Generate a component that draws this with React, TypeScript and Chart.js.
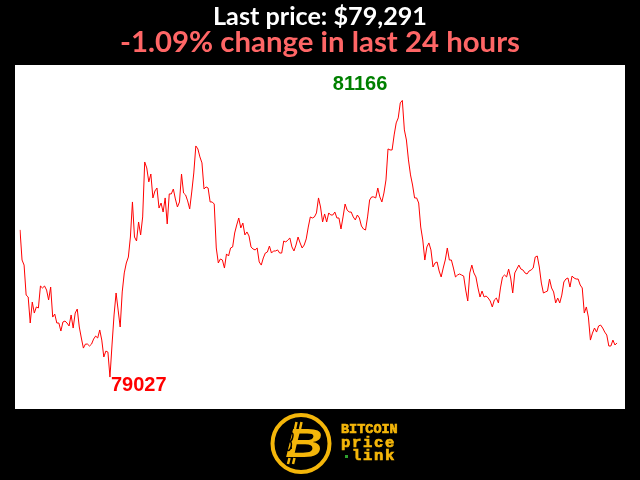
import { useEffect, useRef } from "react";
import Chart from "chart.js/auto";

// BTC/USD, last 24 hours (oldest first)
const prices: number[] = [
  80165, 79932, 79893, 79661, 79646, 79445, 79607, 79522, 79569, 79561,
  79731, 79716, 79731, 79700, 79623, 79723, 79491, 79514, 79445, 79445,
  79383, 79453, 79460, 79445, 79422, 79507, 79406, 79522, 79553, 79414,
  79329, 79251, 79282, 79282, 79267, 79282, 79321, 79344, 79329, 79391,
  79313, 79182, 79228, 79220, 79027,
  79275, 79507, 79677, 79545, 79414, 79685, 79832, 79909, 79955, 80110,
  80381, 80110, 80079, 80226, 80126, 80265, 80690, 80644, 80536, 80597,
  80412, 80466, 80489, 80334, 80373, 80303, 80412, 80211, 80443, 80443,
  80481, 80404, 80342, 80381, 80597, 80450, 80435, 80389, 80327, 80458,
  80605, 80814, 80791, 80729, 80683, 80481, 80497, 80489, 80381, 80381,
  80365, 80025, 79909, 79940, 79932, 79870, 79979, 79963, 80025, 80033,
  80141, 80203, 80257, 80180, 80218, 80126, 80149, 80118, 80033, 80017,
  80010, 80025, 79917, 79893, 79948, 79986, 79994, 80040, 79986, 80002,
  80002, 80010, 79986, 79986, 80079, 80071, 80087, 80102, 80033, 80002,
  80048, 80110, 80064, 80025, 80048, 80095, 80187, 80265, 80257, 80265,
  80296, 80412, 80342, 80226, 80288, 80226, 80296, 80280, 80280, 80303,
  80257, 80257, 80172, 80265, 80365, 80319, 80303, 80303, 80265, 80242,
  80280, 80257, 80195, 80172, 80164, 80265, 80396, 80420, 80420, 80412,
  80489, 80420, 80381, 80450, 80551, 80791, 80783, 80783, 80899, 80992,
  81031, 81147, 81166, 80938, 80860, 80706, 80590, 80512, 80412, 80412,
  80373, 80187, 80087, 79932, 80033, 80064, 80010, 79878, 79909, 79917,
  79847, 79801, 79870, 79932, 80025, 79932, 79932, 79870, 79801, 79816,
  79824, 79816, 79808, 79700, 79615, 79832, 79893, 79832, 79801, 79716,
  79646, 79692, 79646, 79654, 79638, 79615, 79569, 79623, 79638,
  79600, 79716, 79801, 79816, 79801, 79862, 79793, 79677, 79832, 79862,
  79893, 79862, 79855, 79832, 79824, 79847, 79855, 79870, 79955, 79963,
  79878, 79754, 79677, 79685, 79692, 79785, 79716, 79685, 79600,
  79638, 79600, 79661, 79762, 79785, 79793, 79723, 79808, 79793, 79785,
  79785, 79739, 79716, 79522, 79569, 79491, 79313, 79367, 79406, 79375,
  79422, 79429, 79406, 79375, 79352, 79267, 79267, 79313, 79275, 79291,
];
const labels: string[] = prices.map((_, i) => String(i));

const titleText = "Last price: $79,291";
const subtitleText = "-1.09% change in last 24 hours";
const logoLines = ["BITCOIN", "price", "link"];

const Y_MIN = 78780;
const Y_MAX = 81440;
const GOLD = "#f4b60a";

const fitFont = (ctx: CanvasRenderingContext2D, text: string, family: string, width: number) => {
  ctx.font = `bold 100px ${family}`;
  const w = ctx.measureText(text).width;
  return `bold ${(100 * width) / w}px ${family}`;
};

const decorPlugin = {
  id: "decor",
  beforeDraw(chart: any) {
    const { ctx, chartArea } = chart;
    ctx.save();
    ctx.fillStyle = "#ffffff";
    ctx.fillRect(chartArea.left - 5, chartArea.top, chartArea.right - chartArea.left + 13, chartArea.bottom - chartArea.top);
    ctx.restore();
  },
  afterDatasetsDraw(chart: any) {
    const { ctx } = chart;
    const meta = chart.getDatasetMeta(0);
    const data = chart.data.datasets[0].data as number[];
    const lo = data.indexOf(Math.min(...data));
    const hi = data.indexOf(Math.max(...data));
    const pLo = meta.data[lo];
    const pHi = meta.data[hi];
    ctx.save();
    ctx.font = "bold 20px 'Liberation Sans', Arial, sans-serif";
    ctx.textBaseline = "alphabetic";
    ctx.fillStyle = "#ff0000";
    ctx.textAlign = "left";
    ctx.fillText(String(data[lo]), pLo.x + 1, pLo.y + 14);
    ctx.fillStyle = "#008000";
    ctx.textAlign = "right";
    ctx.fillText(String(data[hi]), pHi.x - 15, pHi.y - 10);
    ctx.restore();
  },
  afterDraw(chart: any) {
    const { ctx } = chart;
    ctx.save();
    // headings
    ctx.textAlign = "center";
    ctx.textBaseline = "alphabetic";
    ctx.fillStyle = "#ffffff";
    ctx.font = fitFont(ctx, titleText, "Lato, sans-serif", 214);
    ctx.fillText(titleText, 320, 25);
    ctx.fillStyle = "#ff6666";
    ctx.font = fitFont(ctx, subtitleText, "Lato, sans-serif", 400);
    ctx.fillText(subtitleText, 320, 52);

    // logo
    const cx = 301;
    const cy = 443.5;
    ctx.beginPath();
    ctx.arc(cx, cy, 28.5, 0, Math.PI * 2);
    ctx.fillStyle = "#000000";
    ctx.fill();
    ctx.lineWidth = 4;
    ctx.strokeStyle = GOLD;
    ctx.stroke();

    ctx.strokeStyle = GOLD;
    ctx.lineWidth = 2.5;
    ctx.beginPath();
    ctx.moveTo(295, 429); ctx.lineTo(296.5, 422);
    ctx.moveTo(300, 429); ctx.lineTo(301.5, 422);
    ctx.moveTo(289.5, 458); ctx.lineTo(288, 464);
    ctx.moveTo(294.5, 458); ctx.lineTo(293, 464);
    ctx.stroke();

    ctx.save();
    ctx.translate(304, 457);
    ctx.scale(1.3, 1);
    ctx.fillStyle = GOLD;
    ctx.textAlign = "center";
    ctx.font = "italic bold 40px 'Liberation Sans', Arial, sans-serif";
    ctx.fillText("B", 0, 0);
    ctx.restore();

    // chain link in the stem
    ctx.strokeStyle = "#000000";
    ctx.lineWidth = 1.5;
    ctx.beginPath();
    ctx.ellipse(290.5, 437, 2.2, 4.5, 0.25, 0, Math.PI * 2);
    ctx.moveTo(291.2, 449);
    ctx.ellipse(289, 446, 2.2, 4.5, 0.25, 0, Math.PI * 2);
    ctx.stroke();

    ctx.fillStyle = GOLD;
    ctx.strokeStyle = GOLD;
    ctx.lineWidth = 0.7;
    ctx.textAlign = "left";
    ctx.font = "bold 13.5px 'Liberation Mono', 'Courier New', monospace";
    ctx.fillText(logoLines[0], 341, 433);
    ctx.strokeText(logoLines[0], 341, 433);
    ctx.font = "bold 15.5px 'Liberation Mono', 'Courier New', monospace";
    const spaced = (text: string, x: number, y: number) => {
      for (let i = 0; i < text.length; i++) {
        ctx.fillText(text[i], x + i * 11, y);
        ctx.strokeText(text[i], x + i * 11, y);
      }
    };
    spaced(logoLines[1], 341, 446.5);
    spaced(logoLines[2], 352, 460);
    ctx.fillStyle = "#2ea02e";
    ctx.fillRect(345, 455, 3, 3);
    ctx.restore();
  },
};

const App = () => {
  const canvasRef = useRef<HTMLCanvasElement>(null);
  const chartRef = useRef<Chart | null>(null);

  useEffect(() => {
    if (!canvasRef.current) return;
    if (chartRef.current) chartRef.current.destroy();
    chartRef.current = new Chart(canvasRef.current, {
      type: "line",
      data: {
        labels,
        datasets: [
          {
            data: prices,
            borderColor: "#ff0000",
            borderWidth: 1,
            pointRadius: 0,
            tension: 0,
            fill: false,
          },
        ],
      },
      options: {
        animation: false,
        responsive: true,
        maintainAspectRatio: false,
        events: [],
        layout: { padding: { left: 20, right: 23, top: 65, bottom: 71 } },
        plugins: {
          legend: { display: false },
          tooltip: { enabled: false },
          title: { display: false },
        },
        scales: {
          x: { display: false },
          y: { display: false, min: Y_MIN, max: Y_MAX },
        },
      },
      plugins: [decorPlugin],
    });
    return () => {
      chartRef.current?.destroy();
      chartRef.current = null;
    };
  }, []);

  return (
    <div style={{ position: "fixed", left: 0, top: 0, width: 640, height: 480, background: "#000" }}>
      <canvas ref={canvasRef} />
    </div>
  );
};

export default App;
